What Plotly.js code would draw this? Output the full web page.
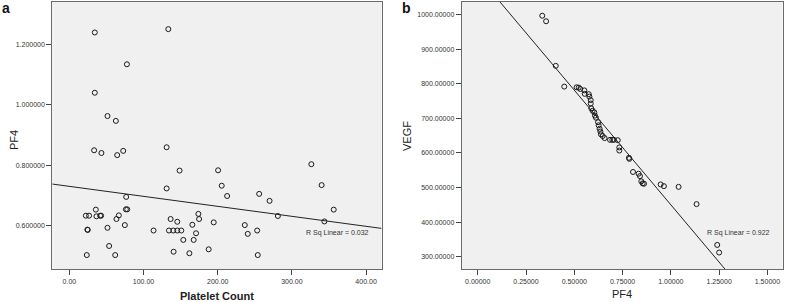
<!DOCTYPE html>
<html>
<head>
<meta charset="utf-8">
<script src="https://cdn.plot.ly/plotly-3.0.1.min.js"></script>
<style>
  html, body { margin: 0; padding: 0; background: #ffffff; }
  #chart { width: 785px; height: 302px; }
</style>
</head>
<body>
<div id="chart"></div>
<script>
// Panel a: Platelet Count vs PF4
const plateletCount = [34.3, 133.4, 77.6, 34.3, 51.4, 62.7, 33.4, 43.2, 64.5, 72.6,
  131.1, 148.6, 131.1, 76.6, 76.2, 78.0, 35.7, 22.2, 26.6, 36.5,
  41.5, 42.8, 66.7, 63.5, 24.3, 24.8, 51.4, 74.8, 23.5, 53.6,
  61.8, 113.5, 136.5, 145.5, 134.3, 140.1, 145.5, 150.9, 165.8, 173.9,
  174.9, 170.8, 153.6, 167.6, 140.5, 161.8, 187.8, 194.6, 200.5, 205.4,
  212.7, 236.5, 240.5, 253.2, 254.0, 255.9, 269.9, 281.1, 326.2, 340.1,
  356.4, 343.8];
const pf4A = [1.239, 1.250, 1.134, 1.040, 0.963, 0.947, 0.850, 0.841, 0.834, 0.848,
  0.860, 0.783, 0.724, 0.696, 0.655, 0.655, 0.654, 0.634, 0.634, 0.632,
  0.634, 0.634, 0.635, 0.623, 0.588, 0.587, 0.594, 0.603, 0.504, 0.534,
  0.504, 0.585, 0.623, 0.614, 0.585, 0.585, 0.585, 0.585, 0.604, 0.640,
  0.623, 0.576, 0.554, 0.554, 0.515, 0.510, 0.523, 0.612, 0.784, 0.733,
  0.699, 0.603, 0.574, 0.585, 0.504, 0.706, 0.683, 0.633, 0.804, 0.735,
  0.654, 0.615];
const fitA = [0.7309, -0.000330];   // intercept, slope
const rsqA = "R Sq Linear = 0.032";

// Panel b: PF4 vs VEGF
const pf4B = [0.334, 0.354, 0.404, 0.448, 0.512, 0.523, 0.531, 0.552, 0.554, 0.575,
  0.578, 0.585, 0.585, 0.588, 0.595, 0.604, 0.607, 0.612, 0.623, 0.626,
  0.631, 0.635, 0.638, 0.647, 0.657, 0.685, 0.697, 0.705, 0.725, 0.733,
  0.733, 0.783, 0.785, 0.804, 0.833, 0.840, 0.847, 0.854, 0.861, 0.947,
  0.964, 1.040, 1.133, 1.240, 1.250];
const vegf = [997, 981, 852, 792, 790, 789, 785, 781, 771, 770,
  763, 753, 743, 729, 722, 717, 708, 702, 689, 680,
  670, 662, 654, 649, 643, 638, 638, 638, 637, 616,
  607, 586, 583, 545, 540, 533, 518, 512, 511, 509,
  504, 502, 452, 334, 312];
const fitB = [1113.2, -663.2];      // intercept, slope
const rsqB = "R Sq Linear = 0.922";

const rangeAx = [-23, 420.8], rangeAy = [0.457, 1.3396];
const rangeBx = [-0.083, 1.578], rangeBy = [263.5, 1036.7];

const marker = {symbol: 'circle-open', size: 5, color: '#1a1a1a', line: {width: 1, color: '#1a1a1a'}};
const lineStyle = {color: '#222', width: 1};

const traces = [
  {type: 'scatter', mode: 'markers', x: plateletCount, y: pf4A, xaxis: 'x', yaxis: 'y', marker: marker, hoverinfo: 'skip'},
  {type: 'scatter', mode: 'lines', x: rangeAx, y: rangeAx.map(v => fitA[0] + fitA[1] * v), xaxis: 'x', yaxis: 'y', line: lineStyle, hoverinfo: 'skip'},
  {type: 'scatter', mode: 'markers', x: pf4B, y: vegf, xaxis: 'x2', yaxis: 'y2', marker: marker, hoverinfo: 'skip'},
  {type: 'scatter', mode: 'lines', x: rangeBx, y: rangeBx.map(v => fitB[0] + fitB[1] * v), xaxis: 'x2', yaxis: 'y2', line: lineStyle, hoverinfo: 'skip'}
];

const tickFont = {family: 'Liberation Sans, Arial, sans-serif', size: 7, color: '#333333'};
const annFont = {family: 'Liberation Sans, Arial, sans-serif', size: 7, color: '#333333'};
const titleFont = {family: 'Liberation Sans, Arial, sans-serif', size: 11, color: '#222222'};
const panelFont = {family: 'Liberation Sans, Arial, sans-serif', size: 14, color: '#111111'};
const axisCommon = {
  showgrid: false, zeroline: false, showline: true, mirror: true,
  linecolor: '#6a6a6a', linewidth: 1, ticks: 'outside', ticklen: 5,
  tickcolor: '#444444', tickwidth: 1, tickfont: tickFont, fixedrange: true
};

const layout = {
  width: 785, height: 302,
  margin: {l: 0, r: 0, t: 0, b: 0},
  paper_bgcolor: '#ffffff', plot_bgcolor: '#f0f0f0',
  showlegend: false,
  xaxis: Object.assign({}, axisCommon, {
    domain: [52.3 / 785, 381.5 / 785], anchor: 'y', range: rangeAx,
    tick0: 0, dtick: 100, tickformat: '.2f',
    title: {text: '<b>Platelet Count</b>', font: titleFont, standoff: 8}
  }),
  yaxis: Object.assign({}, axisCommon, {
    domain: [1 - 269.3 / 302, 1 - 2 / 302], anchor: 'x', range: rangeAy,
    tick0: 0, dtick: 0.2, tickformat: '.6f'
  }),
  xaxis2: Object.assign({}, axisCommon, {
    domain: [461.7 / 785, 782.5 / 785], anchor: 'y2', range: rangeBx,
    tick0: 0, dtick: 0.25, tickformat: '.5f',
    title: {text: 'PF4', font: titleFont, standoff: 6}
  }),
  yaxis2: Object.assign({}, axisCommon, {
    domain: [1 - 269.3 / 302, 1 - 2 / 302], anchor: 'x2', range: rangeBy,
    tick0: 0, dtick: 100, tickformat: '.5f'
  }),
  annotations: [
    {xref: 'x', yref: 'y', x: 361.8, y: 0.576, text: rsqA, showarrow: false, font: annFont,
      xanchor: 'center', yanchor: 'middle'},
    {xref: 'x2', yref: 'y2', x: 1.35, y: 367.7, text: rsqB, showarrow: false, font: annFont,
      xanchor: 'center', yanchor: 'middle'},
    {xref: 'paper', yref: 'paper', x: 14 / 785, y: 1 - 140 / 302, text: 'PF4', textangle: -90,
      showarrow: false, font: titleFont, xanchor: 'center', yanchor: 'middle'},
    {xref: 'paper', yref: 'paper', x: 407 / 785, y: 1 - 136 / 302, text: 'VEGF', textangle: -90,
      showarrow: false, font: titleFont, xanchor: 'center', yanchor: 'middle'},
    {xref: 'paper', yref: 'paper', x: 5.5 / 785, y: 1 - 8 / 302, text: '<b>a</b>', showarrow: false,
      font: panelFont, xanchor: 'center', yanchor: 'middle'},
    {xref: 'paper', yref: 'paper', x: 406.5 / 785, y: 1 - 8 / 302, text: '<b>b</b>', showarrow: false,
      font: panelFont, xanchor: 'center', yanchor: 'middle'}
  ]
};

Plotly.newPlot('chart', traces, layout, {displayModeBar: false, staticPlot: true});
</script>
</body>
</html>
